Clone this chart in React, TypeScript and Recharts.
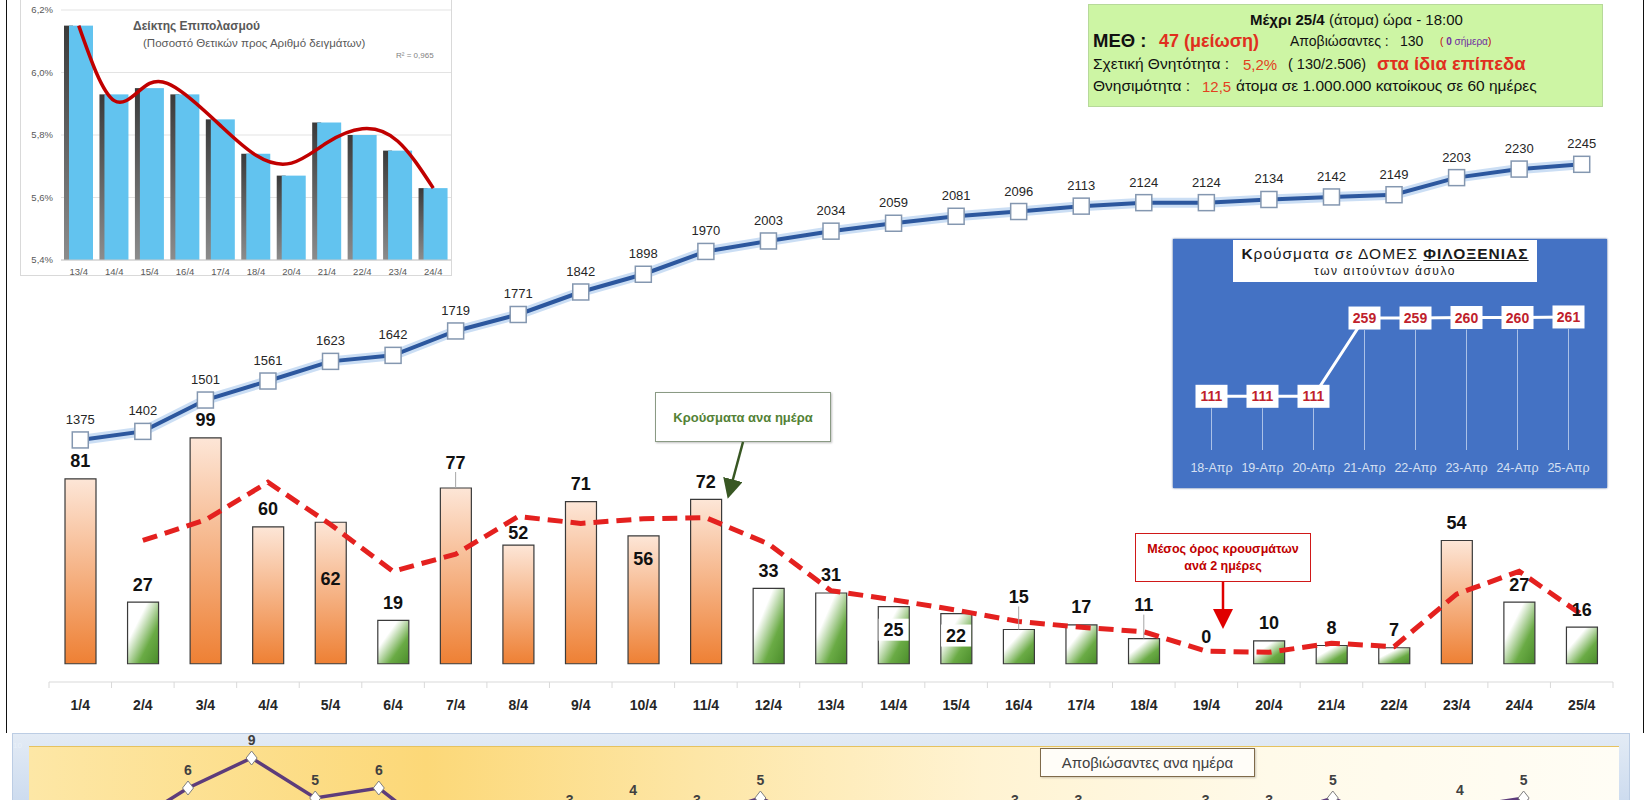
import React from "react";
import {
  ComposedChart,
  Bar,
  Line,
  XAxis,
  YAxis,
  CartesianGrid,
  Cell,
  LabelList,
} from "recharts";

// ---- main chart data ----
const days = [
  "1/4", "2/4", "3/4", "4/4", "5/4", "6/4", "7/4", "8/4", "9/4", "10/4",
  "11/4", "12/4", "13/4", "14/4", "15/4", "16/4", "17/4", "18/4", "19/4",
  "20/4", "21/4", "22/4", "23/4", "24/4", "25/4",
];
const dailyCases = [
  81, 27, 99, 60, 62, 19, 77, 52, 71, 56, 72, 33, 31, 25, 22, 15, 17, 11, 0,
  10, 8, 7, 54, 27, 16,
];
const avgTwoDays = [
  null, 54, 63, 79.5, 61, 40.5, 48, 64.5, 61.5, 63.5, 64, 52.5, 32, 28, 23.5,
  18.5, 16, 14, 5.5, 5, 9, 7.5, 30.5, 40.5, 21.5,
];
const totalCases = [
  1375, 1402, 1501, 1561, 1623, 1642, 1719, 1771, 1842, 1898, 1970, 2003,
  2034, 2059, 2081, 2096, 2113, 2124, 2124, 2134, 2142, 2149, 2203, 2230, 2245,
];
const dailyDeaths = [
  1, 2, 6, 9, 5, 6, 1, 2, 3, 4, 3, 5, 2, 1, 2, 3, 3, 2, 3, 3, 5, 2, 4, 5, 0,
];

// ---- prevalence inset ----
const prevDays = ["13/4", "14/4", "15/4", "16/4", "17/4", "18/4", "20/4", "21/4", "22/4", "23/4", "24/4"];
const positivity = [6.15, 5.93, 5.95, 5.93, 5.85, 5.74, 5.67, 5.84, 5.8, 5.75, 5.63];
const positivityTrend = [6.15, 5.91, 5.965, 5.93, 5.83, 5.735, 5.71, 5.775, 5.82, 5.78, 5.63];
const prevTicks = [5.4, 5.6, 5.8, 6.0, 6.2];

// ---- facilities inset ----
const facilityDays = ["18-Απρ", "19-Απρ", "20-Απρ", "21-Απρ", "22-Απρ", "23-Απρ", "24-Απρ", "25-Απρ"];
const facilityCases = [111, 111, 111, 259, 259, 260, 260, 261];

const FONT = "'Liberation Sans', Arial, sans-serif";

const mainData = days.map((d, i) => ({
  day: d,
  cases: dailyCases[i],
  avg: avgTwoDays[i],
  total: totalCases[i],
}));
const deathData = days.map((d, i) => ({ day: d, deaths: dailyDeaths[i] }));
const prevData = prevDays.map((d, i) => ({ day: d, pct: positivity[i], trend: positivityTrend[i] }));
const facilityData = facilityDays.map((d, i) => ({ day: d, cases: facilityCases[i] }));

const W = 1650;
const M = { top: 100, right: 37, bottom: 78, left: 49 };
const BAND = (W - M.left - M.right) / days.length;

// label placement tweaks (offset of label centre from bar top)
const labelShift: Record<string, number> = {
  "7/4": -26, "16/4": -33, "18/4": -34, "19/4": -27, "8/4": -13,
  "5/4": 56, "10/4": 23, "14/4": 23, "15/4": 22,
};
const leader = ["7/4", "16/4", "18/4"];
const whiteBg = ["14/4", "15/4"];

// labels hang off an invisible line so the zero day gets one too
const BarLabel = (p: any) => {
  const { x, y, value, index } = p;
  const day = days[index];
  const shift = labelShift[day] ?? -18;
  const cy = y + shift;
  return (
    <g>
      {leader.includes(day) && (
        <line x1={x} x2={x} y1={cy + 10} y2={y} stroke="#a6a6a6" strokeWidth={1} />
      )}
      {whiteBg.includes(day) && <rect x={x - 15} y={cy - 11} width={30} height={22} fill="#fff" />}
      <text x={x} y={cy + 6.5} textAnchor="middle" fontFamily={FONT} fontWeight="bold" fontSize={18} fill="#111">
        {value}
      </text>
    </g>
  );
};

const TotalLabel = (p: any) => {
  const { x, y, value } = p;
  return (
    <text x={x} y={y - 16} textAnchor="middle" fontFamily={FONT} fontSize={13} fill="#262626">
      {value}
    </text>
  );
};

const SquareDot = (p: any) => {
  if (p.cx == null) return null;
  return <rect x={p.cx - 8} y={p.cy - 8} width={16} height={16} fill="#fff" stroke="#8497b0" strokeWidth={1.5} />;
};

const DayTick = (p: any) => {
  const { x, y, payload, index } = p;
  return (
    <g>
      <line x1={x - BAND / 2} x2={x - BAND / 2} y1={y} y2={y + 6} stroke="#d9d9d9" />
      {index === days.length - 1 && (
        <line x1={x + BAND / 2} x2={x + BAND / 2} y1={y} y2={y + 6} stroke="#d9d9d9" />
      )}
      <text x={x} y={y + 28} textAnchor="middle" fontFamily={FONT} fontWeight="bold" fontSize={14} fill="#262626">
        {payload.value}
      </text>
    </g>
  );
};

const PrevBar = (p: any) => {
  const { x, y, width, height } = p;
  return (
    <g>
      <rect x={x} y={y} width={9} height={height} fill="url(#sideGrad)" />
      <rect x={x + 5} y={y} width={width - 5} height={height} fill="#62c3ef" />
    </g>
  );
};

const DropDot = (p: any) => {
  if (p.cx == null) return null;
  return <line x1={p.cx} x2={p.cx} y1={p.cy + 12} y2={211} stroke="#c5d5f0" strokeWidth={1} strokeOpacity={0.8} />;
};

const BoxLabel = (p: any) => {
  const { x, y, value } = p;
  return (
    <g>
      <rect x={x - 16} y={y - 11.5} width={32} height={23} fill="#fff" />
      <text x={x} y={y + 5} textAnchor="middle" fontFamily={FONT} fontWeight="bold" fontSize={14} fill="#c0212b">
        {value}
      </text>
    </g>
  );
};

const Diamond = (p: any) => {
  if (p.cx == null) return null;
  const { cx, cy } = p;
  return (
    <path d={`M${cx},${cy - 7} L${cx + 5.5},${cy} L${cx},${cy + 7} L${cx - 5.5},${cy} Z`} fill="#fff" stroke="#7f7f7f" strokeWidth={1} />
  );
};

const DeathLabel = (p: any) => {
  const { x, y, value } = p;
  return (
    <text x={x} y={y - 13} textAnchor="middle" fontFamily={FONT} fontWeight="bold" fontSize={14} fill="#404040">
      {value}
    </text>
  );
};

const T = ({ x, y, size = 13.5, color = "#111", bold = false, children, style }: any) => (
  <div
    style={{
      position: "absolute",
      left: x,
      top: y,
      transform: "translateY(-50%)",
      fontSize: size,
      color,
      fontWeight: bold ? "bold" : "normal",
      whiteSpace: "nowrap",
      lineHeight: 1,
      fontFamily: FONT,
      ...style,
    }}
  >
    {children}
  </div>
);

export default function App() {
  return (
    <div style={{ position: "absolute", left: 0, top: 0, width: 1650, height: 800, overflow: "hidden", background: "#fff", fontFamily: FONT }}>
      {/* frame */}
      <div style={{ position: "absolute", left: 6, top: 0, width: 1636, height: 733, borderLeft: "1.5px solid #111", borderRight: "1.5px solid #111" }} />

      {/* main chart */}
      <div style={{ position: "absolute", left: 0, top: 0 }}>
        <ComposedChart width={W} height={800} data={mainData} margin={M}>
          <defs>
            <linearGradient id="orangeGrad" x1="0" y1="0" x2="0" y2="1">
              <stop offset="0%" stopColor="#fde6d7" />
              <stop offset="100%" stopColor="#ee8034" />
            </linearGradient>
            <linearGradient id="greenGrad" x1="0" y1="0" x2="1" y2="1">
              <stop offset="0%" stopColor="#ffffff" />
              <stop offset="32%" stopColor="#ffffff" />
              <stop offset="68%" stopColor="#6aab45" />
              <stop offset="100%" stopColor="#4a8c2a" />
            </linearGradient>
          </defs>
          <XAxis
            dataKey="day"
            scale="band"
            height={40}
            interval={0}
            axisLine={{ stroke: "#d9d9d9" }}
            tickLine={false}
            tickSize={0}
            tickMargin={0}
            tick={<DayTick />}
          />
          <YAxis yAxisId="cases" hide domain={[-8, 247]} allowDataOverflow />
          <YAxis yAxisId="total" hide domain={[611, 2448]} allowDataOverflow />
          <Bar yAxisId="cases" dataKey="cases" barSize={31} stroke="#3a3a3a" strokeWidth={1.2} isAnimationActive={false}>
            {dailyCases.map((v, i) => (
              <Cell key={i} fill={v >= 50 ? "url(#orangeGrad)" : "url(#greenGrad)"} />
            ))}
          </Bar>
          <Line yAxisId="cases" dataKey="cases" stroke="none" dot={false} activeDot={false} isAnimationActive={false}>
            <LabelList dataKey="cases" content={<BarLabel />} />
          </Line>
          <Line
            yAxisId="cases"
            dataKey="avg"
            type="linear"
            stroke="#e4211f"
            strokeWidth={5}
            strokeDasharray="15 8"
            dot={false}
            activeDot={false}
            isAnimationActive={false}
          />
          <Line
            yAxisId="total"
            dataKey="total"
            type="linear"
            stroke="#a8c8ec"
            strokeOpacity={0.6}
            strokeWidth={10}
            dot={false}
            activeDot={false}
            isAnimationActive={false}
          />
          <Line
            yAxisId="total"
            dataKey="total"
            type="linear"
            stroke="#2c579e"
            strokeWidth={4}
            dot={<SquareDot />}
            activeDot={false}
            isAnimationActive={false}
          >
            <LabelList dataKey="total" content={<TotalLabel />} />
          </Line>
        </ComposedChart>
      </div>

      {/* annotation: daily cases */}
      <div style={{ position: "absolute", left: 655, top: 392, width: 176, height: 50, boxSizing: "border-box", border: "1px solid #8a9a84", background: "#fff", boxShadow: "1px 1px 2px rgba(0,0,0,0.25)", display: "flex", alignItems: "center", justifyContent: "center", color: "#548235", fontWeight: "bold", fontSize: 13 }}>
        Κρούσματα ανα ημέρα
      </div>
      <svg style={{ position: "absolute", left: 0, top: 0 }} width={1650} height={800} pointerEvents="none">
        <defs>
          <marker id="arrG" markerWidth="8" markerHeight="8" refX="6" refY="4" orient="auto">
            <path d="M0,0 L8,4 L0,8 Z" fill="#385723" />
          </marker>
          <marker id="arrR" markerWidth="8" markerHeight="8" refX="6" refY="4" orient="auto">
            <path d="M0,0 L8,4 L0,8 Z" fill="#e00000" />
          </marker>
        </defs>
        <line x1={743} y1={442} x2={729} y2={494} stroke="#385723" strokeWidth={2.5} markerEnd="url(#arrG)" />
        <line x1={1223} y1={582} x2={1223} y2={624} stroke="#e00000" strokeWidth={2.5} markerEnd="url(#arrR)" />
      </svg>
      <div style={{ position: "absolute", left: 1135, top: 533, width: 176, height: 49, boxSizing: "border-box", border: "1.5px solid #d01818", background: "#fff", display: "flex", flexDirection: "column", alignItems: "center", justifyContent: "center", color: "#c00000", fontWeight: "bold", fontSize: 12.5, lineHeight: "17px" }}>
        <div>Μέσος όρος κρουσμάτων</div>
        <div>ανά 2 ημέρες</div>
      </div>

      {/* prevalence inset */}
      <div style={{ position: "absolute", left: 20, top: -1, width: 432, height: 277, background: "#fff", border: "1px solid #d9d9d9", boxSizing: "border-box" }}>
        <ComposedChart width={432} height={277} data={prevData} margin={{ top: 10, right: 2, bottom: 0, left: 0 }}>
          <defs>
            <linearGradient id="sideGrad" x1="0" y1="0" x2="0" y2="1">
              <stop offset="0%" stopColor="#3a3a3a" />
              <stop offset="100%" stopColor="#8c8c8c" />
            </linearGradient>
          </defs>
          <CartesianGrid vertical={false} stroke="#e3e3e3" />
          <XAxis dataKey="day" height={17} interval={0} axisLine={{ stroke: "#c8c8c8" }} tickLine={false} tick={{ fill: "#595959", fontSize: 9.5, fontFamily: FONT }} tickMargin={2} />
          <YAxis
            width={40}
            domain={[5.4, 6.2]}
            ticks={prevTicks}
            allowDataOverflow
            axisLine={false}
            tickLine={false}
            tick={{ fill: "#595959", fontSize: 9.5, fontFamily: FONT }}
            tickFormatter={(v: number) => v.toFixed(1).replace(".", ",") + "%"}
          />
          <Bar dataKey="pct" barSize={29} shape={<PrevBar />} isAnimationActive={false} />
          <Line dataKey="trend" type="natural" stroke="#c00000" strokeWidth={3.5} dot={false} activeDot={false} isAnimationActive={false} />
        </ComposedChart>
        <T x={112} y={26} size={12} bold color="#595959">Δείκτης Επιπολασμού</T>
        <T x={122} y={44} size={11.5} color="#595959">(Ποσοστό Θετικών προς Αριθμό δειγμάτων)</T>
        <T x={375} y={56} size={8} color="#7f7f7f">R² = 0,965</T>
      </div>

      {/* info box */}
      <div style={{ position: "absolute", left: 1088, top: 4, width: 515, height: 103, background: "#cdf5a4", border: "1px solid #b7d99a", boxSizing: "border-box" }} />
      <T x={1250} y={19} size={15}><b>Μέχρι 25/4</b> (άτομα) ώρα - 18:00</T>
      <T x={1093} y={41} size={18.5} bold>ΜΕΘ :</T>
      <T x={1159} y={41} size={18} bold color="#e0301e">47 (μείωση)</T>
      <T x={1290} y={41} size={14}>Αποβιώσαντες :</T>
      <T x={1400} y={41} size={14}>130</T>
      <T x={1440} y={42} size={10} color="#7030a0"><span style={{ color: "#c00000" }}>(</span> <b>0</b> σήμερα<span style={{ color: "#c00000" }}>)</span></T>
      <T x={1093} y={64} size={15.5}>Σχετική Θνητότητα :</T>
      <T x={1243} y={64} size={15} color="#e2411e">5,2%</T>
      <T x={1288} y={64} size={14.5}>( 130/2.506)</T>
      <T x={1377} y={64} size={18.5} bold color="#e0301e">στα ίδια επίπεδα</T>
      <T x={1093} y={86} size={15.5}>Θνησιμότητα :</T>
      <T x={1202} y={86} size={15} color="#e2411e">12,5</T>
      <T x={1236} y={86} size={15.5}>άτομα σε 1.000.000 κατοίκους σε 60 ημέρες</T>

      {/* facility inset */}
      <div style={{ position: "absolute", left: 1173, top: 239, width: 434, height: 249, background: "#4472c4", boxShadow: "0 0 2px #2f528f" }}>
        <ComposedChart width={434} height={249} data={facilityData} margin={{ top: 51, right: 13, bottom: 0, left: 13 }}>
          <XAxis dataKey="day" scale="band" height={33} interval={0} axisLine={false} tickLine={false} tick={{ fill: "#d6e0f2", fontSize: 12.5, fontFamily: FONT }} />
          <YAxis hide domain={[0, 312]} allowDataOverflow />
          <Line dataKey="cases" type="linear" stroke="#ffffff" strokeWidth={3} dot={<DropDot />} activeDot={false} isAnimationActive={false}>
            <LabelList dataKey="cases" content={<BoxLabel />} />
          </Line>
        </ComposedChart>
        <div style={{ position: "absolute", left: 60, top: 1, width: 304, height: 42, background: "#fff", textAlign: "center", color: "#1a1a1a" }}>
          <div style={{ fontSize: 15.5, letterSpacing: 1, marginTop: 5, lineHeight: "18px" }}>
            <b>Κ</b>ρούσματα σε ΔΟΜΕΣ <b style={{ textDecoration: "underline" }}>ΦΙΛΟΞΕΝΙΑΣ</b>
          </div>
          <div style={{ fontSize: 12, letterSpacing: 1.5, lineHeight: "16px" }}>των αιτούντων άσυλο</div>
        </div>
      </div>

      {/* deaths chart */}
      <div style={{ position: "absolute", left: 12, top: 733, width: 1618, height: 80, background: "linear-gradient(#e3ebf5, #c9d9ee)", border: "1px solid #bccde4", boxSizing: "border-box" }} />
      <div style={{ position: "absolute", left: 29, top: 746, width: 1590, height: 60, borderTop: "1px solid #e6c25f", background: "linear-gradient(90deg, #fde7a6 0%, #fcd878 25%, #fde6a6 42%, #fff3d2 60%, #fffae9 78%, #fffdf5 100%)" }} />
      <T x={13} y={746} size={8} color="#e9f0f9">10</T>
      <div style={{ position: "absolute", left: 29, top: 723 }}>
        <ComposedChart width={1590} height={125} data={deathData} margin={{ top: 25, right: 0, bottom: 0, left: 0 }}>
          <XAxis dataKey="day" scale="band" hide />
          <YAxis hide domain={[0, 10]} />
          <Line dataKey="deaths" type="linear" stroke="#5d3c7b" strokeWidth={3.5} dot={<Diamond />} activeDot={false} isAnimationActive={false}>
            <LabelList dataKey="deaths" content={<DeathLabel />} />
          </Line>
        </ComposedChart>
      </div>
      <div style={{ position: "absolute", left: 1040, top: 748, width: 215, height: 29, boxSizing: "border-box", border: "1.5px solid #7f6a4a", background: "#fffdf8", boxShadow: "1px 1px 2px rgba(0,0,0,0.2)", display: "flex", alignItems: "center", justifyContent: "center", fontSize: 15, color: "#404040" }}>
        Αποβιώσαντες ανα ημέρα
      </div>
    </div>
  );
}
